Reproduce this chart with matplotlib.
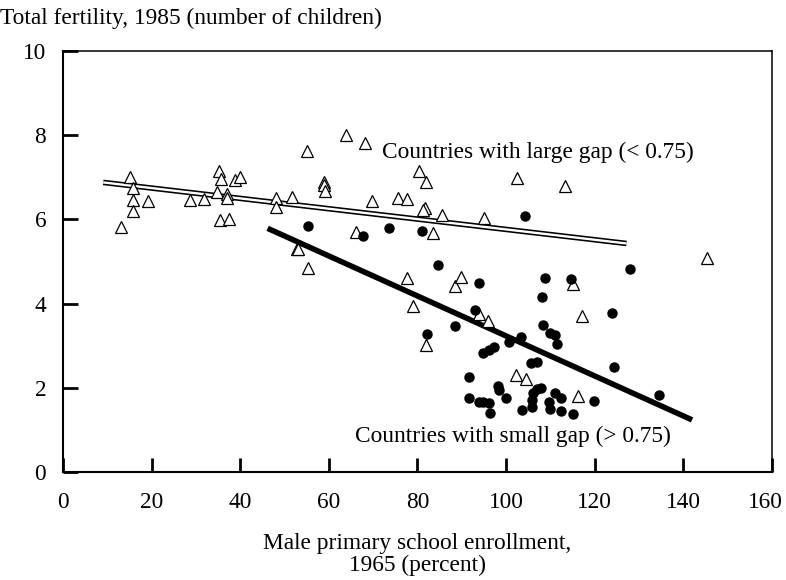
import matplotlib.pyplot as plt
import matplotlib.transforms as mtransforms

# Countries with a large male-female enrollment gap (open triangles)
large_gap_x = [15.1, 15.8, 15.8, 15.8, 13.2, 19.3, 28.8, 31.9, 35.2, 35.6, 38.8, 40.0,
               34.8, 37.0, 37.0, 35.5, 37.4, 48.2, 48.2, 51.6, 55.0, 52.9, 53.1, 55.3,
               64.0, 68.2, 58.9, 59.0, 59.1, 69.7, 75.7, 77.7, 80.3, 82.0, 81.7, 81.2,
               85.6, 95.1, 102.4, 66.2, 83.5, 113.3, 145.3, 115.2, 117.2, 77.7, 79.0,
               82.0, 88.4, 89.9, 93.8, 95.9, 102.3, 104.5, 116.3]
large_gap_y = [7.01, 6.74, 6.46, 6.21, 5.81, 6.44, 6.46, 6.48, 7.15, 6.97, 6.94, 7.01,
               6.66, 6.60, 6.50, 5.99, 6.01, 6.50, 6.29, 6.54, 7.62, 5.31, 5.30, 4.84,
               8.00, 7.81, 6.90, 6.82, 6.67, 6.44, 6.52, 6.48, 7.15, 6.90, 6.28, 6.22,
               6.10, 6.03, 6.98, 5.71, 5.67, 6.79, 5.08, 4.47, 3.71, 4.60, 3.94,
               3.02, 4.43, 4.64, 3.75, 3.60, 2.30, 2.21, 1.81]

# Countries with a small gap (filled dots)
small_gap_x = [55.3, 67.7, 73.6, 81.1, 104.3, 84.6, 93.8, 108.7, 114.6, 127.9, 108.1,
               124.0, 93.1, 88.4, 82.2, 108.3, 109.9, 111.1, 111.5, 103.4, 100.6, 97.2,
               96.1, 94.9, 105.7, 107.0, 91.6, 124.3, 134.5, 98.3, 98.5, 91.6, 93.8,
               94.9, 96.1, 96.4, 100.0, 107.8, 106.9, 106.0, 105.8, 105.8, 103.6, 111.1,
               112.4, 109.6, 109.9, 112.4, 115.2, 119.8]
small_gap_y = [5.85, 5.61, 5.79, 5.73, 6.08, 4.91, 4.50, 4.62, 4.58, 4.82, 4.16,
               3.77, 3.86, 3.47, 3.28, 3.49, 3.31, 3.25, 3.04, 3.20, 3.09, 2.96,
               2.91, 2.84, 2.60, 2.62, 2.26, 2.49, 1.84, 2.04, 1.95, 1.75, 1.67,
               1.66, 1.63, 1.41, 1.75, 2.00, 1.97, 1.89, 1.71, 1.55, 1.47, 1.88,
               1.77, 1.67, 1.51, 1.46, 1.39, 1.69]

# Fitted lines (end points)
large_fit_x = [9.1, 127.2]
large_fit_y = [6.88, 5.43]
small_fit_x = [46.2, 142.0]
small_fit_y = [5.79, 1.24]

x_ticks = [0, 20, 40, 60, 80, 100, 120, 140, 160]
y_ticks = [0, 2, 4, 6, 8, 10]

plt.rcParams['font.family'] = ['Liberation Serif', 'DejaVu Serif']
FS = 16.8

fig = plt.figure(figsize=(7.86, 5.80), dpi=100)
ax = fig.add_axes([0.080, 0.186, 0.902, 0.726])

# double line: black outline with white core
ax.plot(large_fit_x, large_fit_y, color='black', lw=4.0, solid_capstyle='butt', zorder=2)
ax.plot(large_fit_x, large_fit_y, color='white', lw=1.7, solid_capstyle='butt', zorder=2)
ax.plot(small_fit_x, small_fit_y, color='black', lw=4.0, solid_capstyle='butt', zorder=2)

ax.plot(large_gap_x, large_gap_y, ls='none', marker='^', ms=8, mfc='white',
        mec='black', mew=0.9, zorder=3)
ax.plot(small_gap_x, small_gap_y, ls='none', marker='o', ms=6.5, mfc='black',
        mec='black', zorder=4)

ax.text(72.0, 7.6, 'Countries with large gap (< 0.75)', fontsize=FS,
        ha='left', va='center')
ax.text(66.0, 0.85, 'Countries with small gap (> 0.75)', fontsize=FS,
        ha='left', va='center')

ax.set_xlim(0, 160)
ax.set_ylim(0, 10)
ax.set_xticks(x_ticks)
ax.set_yticks(y_ticks)
ax.tick_params(axis='x', direction='in', length=10, width=2, pad=14, labelsize=FS)
ax.tick_params(axis='y', direction='in', length=11, width=2, pad=12, labelsize=FS)
for side in ['left', 'bottom']:
    ax.spines[side].set_linewidth(1.5)
for side in ['top', 'right']:
    ax.spines[side].set_linewidth(1.1)

# keep the last x tick label inside the figure
last = ax.get_xticklabels()[-1]
last.set_transform(last.get_transform() +
                   mtransforms.ScaledTranslation(-6 / 100, 0, fig.dpi_scale_trans))

fig.text(0.0, 0.968, 'Total fertility, 1985 (number of children)', fontsize=FS,
         ha='left', va='center')
ax.set_xlabel('Male primary school enrollment,\n1965 (percent)', fontsize=FS,
              labelpad=15, linespacing=1.05)

fig.savefig('out.png', dpi=100)
